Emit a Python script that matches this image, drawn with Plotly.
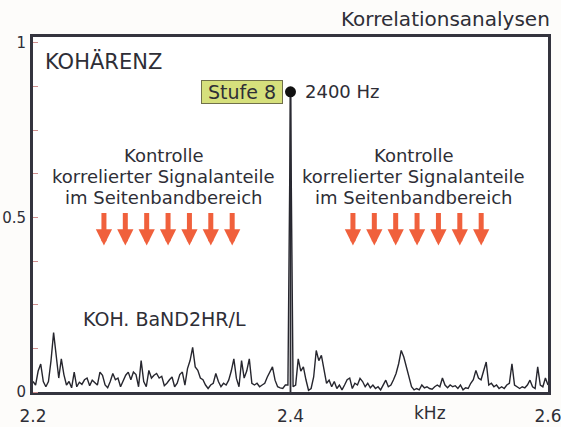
import numpy as np
import plotly.graph_objects as go

# ---- data ----
freq_start_khz = 2.2
freq_end_khz = 2.6
coherence = [
    0.03, 0.02, 0.06, 0.08, 0.03, 0.015, 0.03, 0.09, 0.17, 0.11,
    0.04, 0.095, 0.05, 0.02, 0.03, 0.012, 0.057, 0.015, 0.028, 0.022,
    0.035, 0.04, 0.018, 0.034, 0.028, 0.02, 0.057, 0.048, 0.02, 0.012,
    0.03, 0.053, 0.035, 0.04, 0.015, 0.03, 0.048, 0.057, 0.035, 0.057,
    0.05, 0.015, 0.09, 0.03, 0.015, 0.062, 0.04, 0.048, 0.053, 0.04,
    0.045, 0.018, 0.025, 0.035, 0.043, 0.015, 0.025, 0.05, 0.057, 0.02,
    0.067, 0.09, 0.128, 0.072, 0.062, 0.04, 0.035, 0.02, 0.01, 0.02,
    0.025, 0.053, 0.03, 0.015, 0.025, 0.02, 0.034, 0.06, 0.095, 0.039,
    0.015, 0.09, 0.04, 0.06, 0.095, 0.025, 0.02, 0.025, 0.015, 0.02,
    0.025, 0.043, 0.06, 0.072, 0.034, 0.015, 0.012, 0.01, 0.02, 0.02,
    0.86,
    0.015, 0.02, 0.095, 0.06, 0.072, 0.035, 0.005, 0.01, 0.043, 0.119,
    0.09, 0.105, 0.06, 0.025, 0.034, 0.015, 0.03, 0.01, 0.02, 0.006,
    0.02, 0.035, 0.04, 0.01, 0.025, 0.02, 0.039, 0.03, 0.015, 0.025,
    0.012, 0.02, 0.01, 0.015, 0.006, 0.02, 0.034, 0.015, 0.02, 0.035,
    0.053, 0.081, 0.119, 0.1, 0.07, 0.043, 0.015, 0.006, 0.01, 0.006,
    0.02, 0.012, 0.015, 0.01, 0.008, 0.015, 0.02, 0.015, 0.04, 0.02,
    0.012, 0.02, 0.015, 0.018, 0.01, 0.02, 0.006, 0.012, 0.01, 0.025,
    0.035, 0.062, 0.04, 0.035, 0.06, 0.086, 0.02, 0.025, 0.015, 0.02,
    0.01, 0.015, 0.01, 0.02, 0.025, 0.081, 0.02, 0.015, 0.01, 0.015,
    0.012, 0.02, 0.034, 0.015, 0.01, 0.072, 0.02, 0.015, 0.04, 0.02,
]
peak_freq_khz = [2.4]
peak_value = [0.86]
peak_label = "2400 Hz"
stage_label = "Stufe 8"
x_tick_vals = [2.2, 2.4, 2.6]
x_tick_text = ["2.2", "2.4", "2.6"]
y_tick_vals = [0, 0.5, 1]
y_tick_text = ["0", "0.5", "1"]
block_lines = ["Kontrolle", "korrelierter Signalanteile", "im Seitenbandbereich"]

freq = np.linspace(freq_start_khz, freq_end_khz, len(coherence))

FONT = "DejaVu Sans, Verdana, sans-serif"
TXT = "#2e2e36"

fig = go.Figure()
fig.add_trace(go.Scatter(x=freq, y=coherence, mode="lines",
                         line=dict(color="#26262e", width=1.4),
                         hoverinfo="skip", showlegend=False))
# stem of the main coherence peak
fig.add_trace(go.Scatter(x=[peak_freq_khz[0], peak_freq_khz[0]], y=[0, peak_value[0]],
                         mode="lines", line=dict(color="#2a2a32", width=1.8),
                         hoverinfo="skip", showlegend=False))
fig.add_trace(go.Scatter(x=peak_freq_khz, y=peak_value, mode="markers",
                         marker=dict(color="#111", size=11),
                         showlegend=False, cliponaxis=False))

ann = []
ann.append(dict(xref="paper", yref="paper", x=1.008, y=1.0, yshift=18,
                xanchor="right", yanchor="middle", showarrow=False,
                text="Korrelationsanalysen", font=dict(size=20, color=TXT, family=FONT)))
ann.append(dict(x=2.2078, y=0.946, xanchor="left", yanchor="middle", showarrow=False,
                text="KOHÄRENZ", font=dict(size=21, color=TXT, family=FONT)))
ann.append(dict(x=peak_freq_khz[0], y=peak_value[0], xanchor="right", yanchor="middle",
                xshift=-8, showarrow=False, text="\u00a0" + stage_label + "\u00a0",
                bgcolor="#d6e07c", bordercolor="#70704a", borderwidth=1, borderpad=0,
                font=dict(size=19, color=TXT, family=FONT)))
ann.append(dict(x=peak_freq_khz[0], y=peak_value[0], xanchor="left", yanchor="middle",
                xshift=12, showarrow=False, text=peak_label,
                font=dict(size=18, color=TXT, family=FONT)))
for cx in (2.3017, 2.4959):
    for line, ly in zip(block_lines, (0.677, 0.617, 0.557)):
        ann.append(dict(x=cx, y=ly, xanchor="center", yanchor="middle", showarrow=False,
                        text=line, font=dict(size=18, color=TXT, family=FONT)))
ann.append(dict(x=2.3025, y=0.209, xanchor="center", yanchor="middle", showarrow=False,
                text="KOH. BaND2HR/L", font=dict(size=19, color=TXT, family=FONT)))
ann.append(dict(x=2.5083, xref="x", y=0, yref="paper", yanchor="top", yshift=-9,
                showarrow=False, text="kHz", font=dict(size=17, color=TXT, family=FONT)))
# orange arrows
for start in (2.2551, 2.4485):
    for k in range(7):
        ann.append(dict(x=start + k * 0.0166, y=0.42, ax=0, ay=-34, text="",
                        showarrow=True, arrowhead=2, arrowwidth=5, arrowsize=0.65,
                        arrowcolor="#f0603c"))

fig.update_layout(
    width=561, height=427,
    margin=dict(l=33, r=13, t=37, b=35),
    paper_bgcolor="#fdfcfa", plot_bgcolor="#ffffff",
    annotations=ann,
    font=dict(family=FONT, color=TXT, size=16),
    xaxis=dict(range=[freq_start_khz, freq_end_khz], tickvals=x_tick_vals, ticktext=x_tick_text,
               showgrid=False, zeroline=False, showline=True, mirror=True, automargin=False,
               linecolor="#34343e", linewidth=3, ticks="", ticklabelstandoff=7,
               ticklabeloverflow="allow",
               tickfont=dict(size=17, color=TXT, family=FONT)),
    yaxis=dict(range=[0, 1.017], tickvals=y_tick_vals, ticktext=y_tick_text,
               showgrid=False, zeroline=False, showline=True, mirror=True, automargin=False,
               linecolor="#34343e", linewidth=3, ticks="", ticklabelstandoff=1,
               ticklabeloverflow="allow",
               tickfont=dict(size=15, color=TXT, family=FONT),
               minor=dict(dtick=0.125, ticks="inside", ticklen=5, tickcolor="#d09090",
                          showgrid=False)),
)

fig.write_html("out.html", config={"displayModeBar": False},
               post_script="document.body.style.margin='0px';")
